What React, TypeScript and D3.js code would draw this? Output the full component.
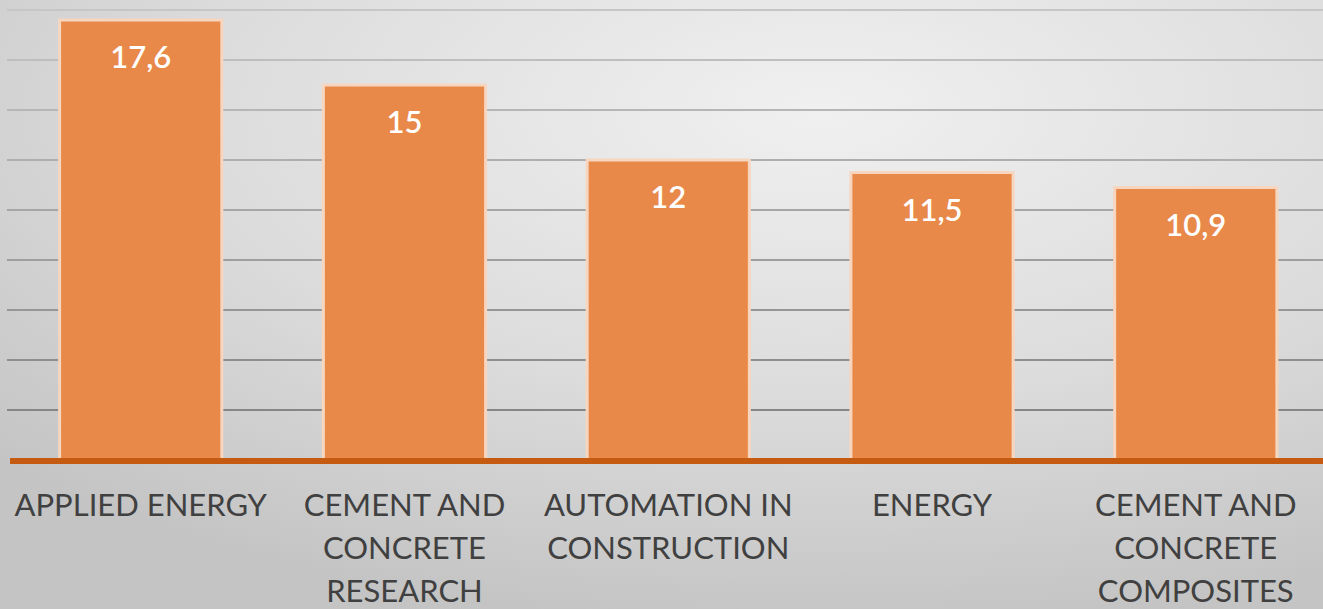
import React from "react";
import * as d3 from "d3";

const categories: string[][] = [
  ["APPLIED ENERGY"],
  ["CEMENT AND", "CONCRETE", "RESEARCH"],
  ["AUTOMATION IN", "CONSTRUCTION"],
  ["ENERGY"],
  ["CEMENT AND", "CONCRETE", "COMPOSITES"],
];
const values: number[] = [17.6, 15, 12, 11.5, 10.9];
const valueLabels: string[] = ["17,6", "15", "12", "11,5", "10,9"];
const gridTicks: number[] = [2, 4, 6, 8, 10, 12, 14, 16, 18];

const W = 1323;
const H = 609;
const baseY = 460;

export default function App() {
  const x = d3.scaleBand<number>().domain(d3.range(values.length)).range([9.5, 1327]).paddingInner(0.385).paddingOuter(0.19);
  const y = d3.scaleLinear().domain([0, 18]).range([baseY, 10]);
  const gridColor = d3.scaleLinear<string>().domain([18, 2]).range(["#c6c6c6", "#868686"]);
  const bw = x.bandwidth();
  return (
    <svg width={W} height={H} style={{ position: "absolute", left: 0, top: 0 }}>
      <defs>
        <radialGradient id="bg" cx="62%" cy="18%" r="85%" gradientUnits="objectBoundingBox">
          <stop offset="0%" stopColor="#f0f0f0" />
          <stop offset="55%" stopColor="#dcdcdc" />
          <stop offset="100%" stopColor="#c4c4c4" />
        </radialGradient>
      </defs>
      <rect x={0} y={0} width={W} height={H} fill="url(#bg)" />
      {gridTicks.map((t) => (
        <line key={t} x1={7} x2={W} y1={y(t)} y2={y(t)} stroke={gridColor(t)} strokeWidth={2} />
      ))}
      {values.map((v, i) => (
        <g key={i}>
          <rect
            x={x(i)!}
            y={y(v)}
            width={bw}
            height={baseY - y(v)}
            fill="#e8894a"
            stroke="#f7d6bf"
            strokeWidth={3}
          />
          <text
            x={x(i)! + bw / 2}
            y={y(v) + 48}
            textAnchor="middle"
            fill="#ffffff"
            fontFamily="Lato, 'Open Sans', sans-serif"
            fontWeight={600}
            fontSize={31}
          >
            {valueLabels[i]}
          </text>
        </g>
      ))}
      <line x1={10} x2={W} y1={baseY + 1} y2={baseY + 1} stroke="#c55a11" strokeWidth={6} />
      {categories.map((lines, i) => (
        <text
          key={i}
          x={x(i)! + bw / 2}
          textAnchor="middle"
          fill="#404040"
          fontFamily="Lato, 'Open Sans', sans-serif"
          fontSize={31}
        >
          {lines.map((l, j) => (
            <tspan key={j} x={x(i)! + bw / 2} y={516 + j * 43}>
              {l}
            </tspan>
          ))}
        </text>
      ))}
    </svg>
  );
}
